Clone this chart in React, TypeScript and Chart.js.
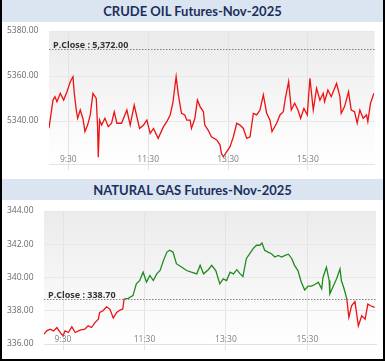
import React, { useEffect, useRef } from "react";
import { Chart, registerables } from "chart.js";
Chart.register(...registerables);

// ---- Data (times in minutes since midnight) ----
const crudeTimes = [
  541, 547, 550, 553, 558, 563, 568, 573, 577, 579, 582, 584, 588, 592, 595, 599, 603, 607, 612, 614,
  615, 617, 620, 625, 630, 635, 639, 643, 650, 658, 663, 669, 673, 677, 683, 688, 693, 698, 705, 713,
  718, 723, 727, 732, 735, 740, 745, 748, 753, 755, 760, 764, 768, 773, 775, 780, 785, 793, 798, 800,
  803, 808, 813, 818, 823, 828, 833, 838, 843, 848, 853, 858, 863, 868, 873, 876, 883, 888, 893, 896,
  901, 905, 910, 915, 919, 924, 929, 933, 938, 943, 948, 953, 955, 960, 965, 973, 978, 980, 985, 991,
  995, 1000, 1004, 1008, 1013, 1018, 1020, 1024, 1029,
];
const crudeValues = [
  5336.8, 5349.3, 5350.8, 5348.6, 5352.3, 5349.3, 5353.0, 5357.5, 5359.7, 5352.3, 5344.9, 5341.2, 5344.9, 5341.0, 5335.3, 5338.2, 5342.7, 5352.3, 5350.0, 5337.5,
  5323.9, 5340.4, 5338.2, 5341.2, 5337.5, 5339.0, 5344.1, 5339.0, 5339.0, 5344.9, 5338.2, 5347.1, 5341.9, 5336.7, 5338.2, 5340.4, 5334.5, 5336.7, 5332.3, 5337.5,
  5339.7, 5342.7, 5347.9, 5359.7, 5352.3, 5343.4, 5342.7, 5340.4, 5340.4, 5336.7, 5341.0, 5349.3, 5346.4, 5344.1, 5338.2, 5336.0, 5333.0, 5331.6, 5329.3, 5325.6,
  5324.1, 5326.4, 5328.6, 5333.0, 5339.0, 5338.2, 5336.7, 5332.3, 5333.0, 5343.4, 5342.7, 5344.9, 5351.6, 5343.4, 5340.4, 5335.3, 5339.0, 5342.7, 5344.1, 5350.0,
  5357.5, 5344.9, 5347.9, 5344.9, 5341.2, 5345.6, 5342.7, 5359.0, 5344.9, 5354.5, 5349.3, 5352.3, 5348.6, 5353.8, 5350.8, 5356.7, 5350.8, 5343.4, 5346.4, 5353.0,
  5344.9, 5344.1, 5339.0, 5344.9, 5341.2, 5342.7, 5339.7, 5347.9, 5352.3,
];

const gasTimes = [
  542, 546, 551, 556, 561, 566, 570, 573, 578, 583, 588, 595, 602, 607, 612, 617, 622, 624, 629, 634,
  639, 644, 649, 654, 658, 660, 666, 673, 678, 683, 688, 693, 698, 703, 708, 713, 718, 723, 727, 732,
  737, 745, 752, 759, 767, 772, 777, 784, 789, 795, 801, 806, 811, 816, 821, 826, 831, 835, 840, 845,
  850, 855, 860, 863, 867, 872, 877, 882, 887, 892, 897, 902, 907, 911, 916, 921, 926, 931, 936, 941,
  946, 951, 953, 958, 962, 963, 968, 973, 978, 980, 984, 988, 991, 995, 1000, 1005, 1010, 1015, 1019, 1023,
  1029,
];
const gasValues = [
  336.59, 336.79, 336.89, 336.79, 336.99, 336.69, 336.48, 336.79, 336.69, 337.03, 336.69, 336.83, 336.89, 337.09, 336.99, 337.29, 337.49, 337.9, 338.0, 338.24,
  338.1, 337.56, 337.9, 338.04, 338.1, 338.71, 338.75, 338.91, 339.62, 339.82, 340.32, 339.72, 340.12, 339.82, 340.22, 340.42, 341.03, 341.53, 341.64, 341.53,
  340.83, 340.62, 340.42, 340.32, 340.22, 340.73, 340.22, 340.47, 340.73, 340.42, 339.62, 339.92, 339.82, 340.32, 340.22, 340.47, 340.22, 340.06, 341.13, 341.43,
  341.74, 341.94, 341.94, 342.08, 341.64, 341.53, 341.43, 341.23, 341.33, 341.23, 341.33, 341.4, 341.13, 340.73, 340.42, 339.72, 339.25, 339.48, 339.48, 339.58,
  339.72, 339.32, 340.02, 340.62, 339.82, 339.01, 339.48, 339.92, 340.52, 339.82, 339.32, 338.71, 337.6, 338.3, 338.55, 337.09, 337.7, 337.49, 338.4, 338.3,
  338.2,
];

const crudePrevClose = 5372;
const gasPrevClose = 338.7;
const crudeYTicks = [5340, 5360, 5380];
const gasYTicks = [336, 338, 340, 342, 344];
const xTickMinutes = [570, 690, 810, 930];
const xTickLabels = ["9:30", "11:30", "13:30", "15:30"];

const TICK_FONT = '"Open Sans", "Noto Sans", sans-serif';

const decorPlugin = {
  id: "decor",
  beforeDraw(chart: any) {
    const { ctx, chartArea: a } = chart;
    if (!a) return;
    const g = ctx.createLinearGradient(0, a.top, 0, a.bottom);
    g.addColorStop(0, "#ebebeb");
    g.addColorStop(1, "#ffffff");
    ctx.save();
    ctx.fillStyle = g;
    ctx.fillRect(a.left, a.top, a.right - a.left, a.bottom - a.top);
    ctx.restore();
  },
  afterDatasetsDraw(chart: any, _args: any, o: any) {
    const { ctx, chartArea: a, scales } = chart;
    const y = Math.round(scales.y.getPixelForValue(o.prevClose)) + 0.5;
    ctx.save();
    ctx.strokeStyle = "#808080";
    ctx.lineWidth = 1;
    ctx.setLineDash([1.5, 1.5]);
    ctx.beginPath();
    ctx.moveTo(a.left, y);
    ctx.lineTo(a.right, y);
    ctx.stroke();
    ctx.setLineDash([]);
    ctx.font = `bold 9px ${TICK_FONT}`;
    ctx.fillStyle = "#333333";
    ctx.textAlign = "left";
    ctx.textBaseline = "alphabetic";
    ctx.fillText(o.label, a.left + 4, y - 1.5);
    ctx.font = `8.5px ${TICK_FONT}`;
    ctx.fillStyle = "#808080";
    ctx.textAlign = "center";
    ctx.textBaseline = "middle";
    xTickMinutes.forEach((m, i) => {
      ctx.fillText(xTickLabels[i], scales.x.getPixelForValue(m), a.bottom - 4);
    });
    ctx.restore();
  },
};

function buildConfig(p: {
  times: number[];
  values: number[];
  yTicks: number[];
  yMin: number;
  yMax: number;
  xMin: number;
  xMax: number;
  prevClose: number;
  label: string;
  axisWidth: number;
  padRight: number;
  padTop: number;
  split: boolean;
}): any {
  const data = p.times.map((t, i) => ({ x: t, y: p.values[i] }));
  const red = "#ee1111";
  const green = "#1f8a1f";
  const borderColor = p.split
    ? (c: any) => {
        const chart = c.chart;
        const a = chart.chartArea;
        if (!a) return green;
        const yp = chart.scales.y.getPixelForValue(p.prevClose);
        const s = Math.min(1, Math.max(0, (yp - a.top) / (a.bottom - a.top)));
        const g = chart.ctx.createLinearGradient(0, a.top, 0, a.bottom);
        g.addColorStop(0, green);
        g.addColorStop(s, green);
        g.addColorStop(s, red);
        g.addColorStop(1, red);
        return g;
      }
    : red;
  return {
    type: "line",
    data: {
      datasets: [
        {
          data,
          borderColor,
          borderWidth: 1.3,
          pointRadius: 0,
          tension: 0,
          fill: false,
        },
      ],
    },
    options: {
      animation: false,
      responsive: false,
      maintainAspectRatio: false,
      layout: { padding: { left: 5, top: p.padTop, right: p.padRight, bottom: 9 } },
      plugins: {
        legend: { display: false },
        tooltip: { enabled: false },
        decor: { prevClose: p.prevClose, label: p.label },
      },
      scales: {
        x: {
          type: "linear",
          min: p.xMin,
          max: p.xMax,
          afterBuildTicks: (axis: any) => {
            axis.ticks = xTickMinutes.map((v) => ({ value: v }));
          },
          ticks: { display: false },
          grid: { color: "#e3e3e3", tickLength: 6, drawTicks: true },
          border: { color: "#e3e3e3" },
        },
        y: {
          type: "linear",
          min: p.yMin,
          max: p.yMax,
          afterBuildTicks: (axis: any) => {
            axis.ticks = p.yTicks.map((v) => ({ value: v }));
          },
          afterFit: (axis: any) => {
            axis.width = p.axisWidth;
          },
          ticks: {
            crossAlign: "far",
            padding: 0,
            color: "#6a6a6a",
            font: { family: TICK_FONT, size: 8.5 },
            callback: (v: any) => Number(v).toFixed(2),
          },
          grid: { color: "#e8e8e8", drawTicks: false },
          border: { display: false },
        },
      },
    },
    plugins: [decorPlugin],
  };
}

function ChartBox(props: { config: any; left: number; top: number; width: number; height: number }) {
  const ref = useRef<HTMLCanvasElement | null>(null);
  useEffect(() => {
    if (!ref.current) return;
    const chart = new Chart(ref.current, props.config);
    return () => chart.destroy();
  }, []);
  return (
    <div style={{ position: "absolute", left: props.left, top: props.top, width: props.width, height: props.height }}>
      <canvas ref={ref} width={props.width} height={props.height} style={{ display: "block" }} />
    </div>
  );
}

const headerStyle: React.CSSProperties = {
  position: "absolute",
  left: 2,
  width: 381,
  background: "#dbe5f1",
  color: "#1c2f5c",
  fontFamily: 'Lato, "Open Sans", sans-serif',
  fontWeight: 700,
  fontSize: 13,
  textAlign: "center",
};

export default function App() {
  const crudeConfig = buildConfig({
    times: crudeTimes,
    values: crudeValues,
    yTicks: crudeYTicks,
    yMin: 5320.9,
    yMax: 5380,
    xMin: 541,
    xMax: 1030,
    prevClose: crudePrevClose,
    label: "P.Close : " + crudePrevClose.toLocaleString("en-US", { minimumFractionDigits: 2, maximumFractionDigits: 2 }),
    axisWidth: 42,
    padRight: 8.5,
    padTop: 9,
    split: false,
  });
  const gasConfig = buildConfig({
    times: gasTimes,
    values: gasValues,
    yTicks: gasYTicks,
    yMin: 336,
    yMax: 344,
    xMin: 542,
    xMax: 1031,
    prevClose: gasPrevClose,
    label: "P.Close : " + gasPrevClose.toLocaleString("en-US", { minimumFractionDigits: 2, maximumFractionDigits: 2 }),
    axisWidth: 37,
    padRight: 7,
    padTop: 11,
    split: true,
  });
  return (
    <div style={{ position: "fixed", left: 0, top: 0, width: 385, height: 362, background: "#ffffff", overflow: "hidden" }}>
      <div style={{ ...headerStyle, top: 0, height: 22, lineHeight: "23px" }}>CRUDE OIL Futures-Nov-2025</div>
      <ChartBox config={crudeConfig} left={2} top={22} width={381} height={157} />
      <div style={{ ...headerStyle, top: 179, height: 21, lineHeight: "22px" }}>NATURAL GAS Futures-Nov-2025</div>
      <ChartBox config={gasConfig} left={2} top={200} width={381} height={159} />
      <div
        style={{
          position: "absolute",
          left: 0,
          top: 0,
          width: 385,
          height: 361,
          boxSizing: "border-box",
          borderLeft: "2px solid #000",
          borderRight: "2px solid #000",
          borderBottom: "2px solid #000",
          pointerEvents: "none",
        }}
      />
    </div>
  );
}
